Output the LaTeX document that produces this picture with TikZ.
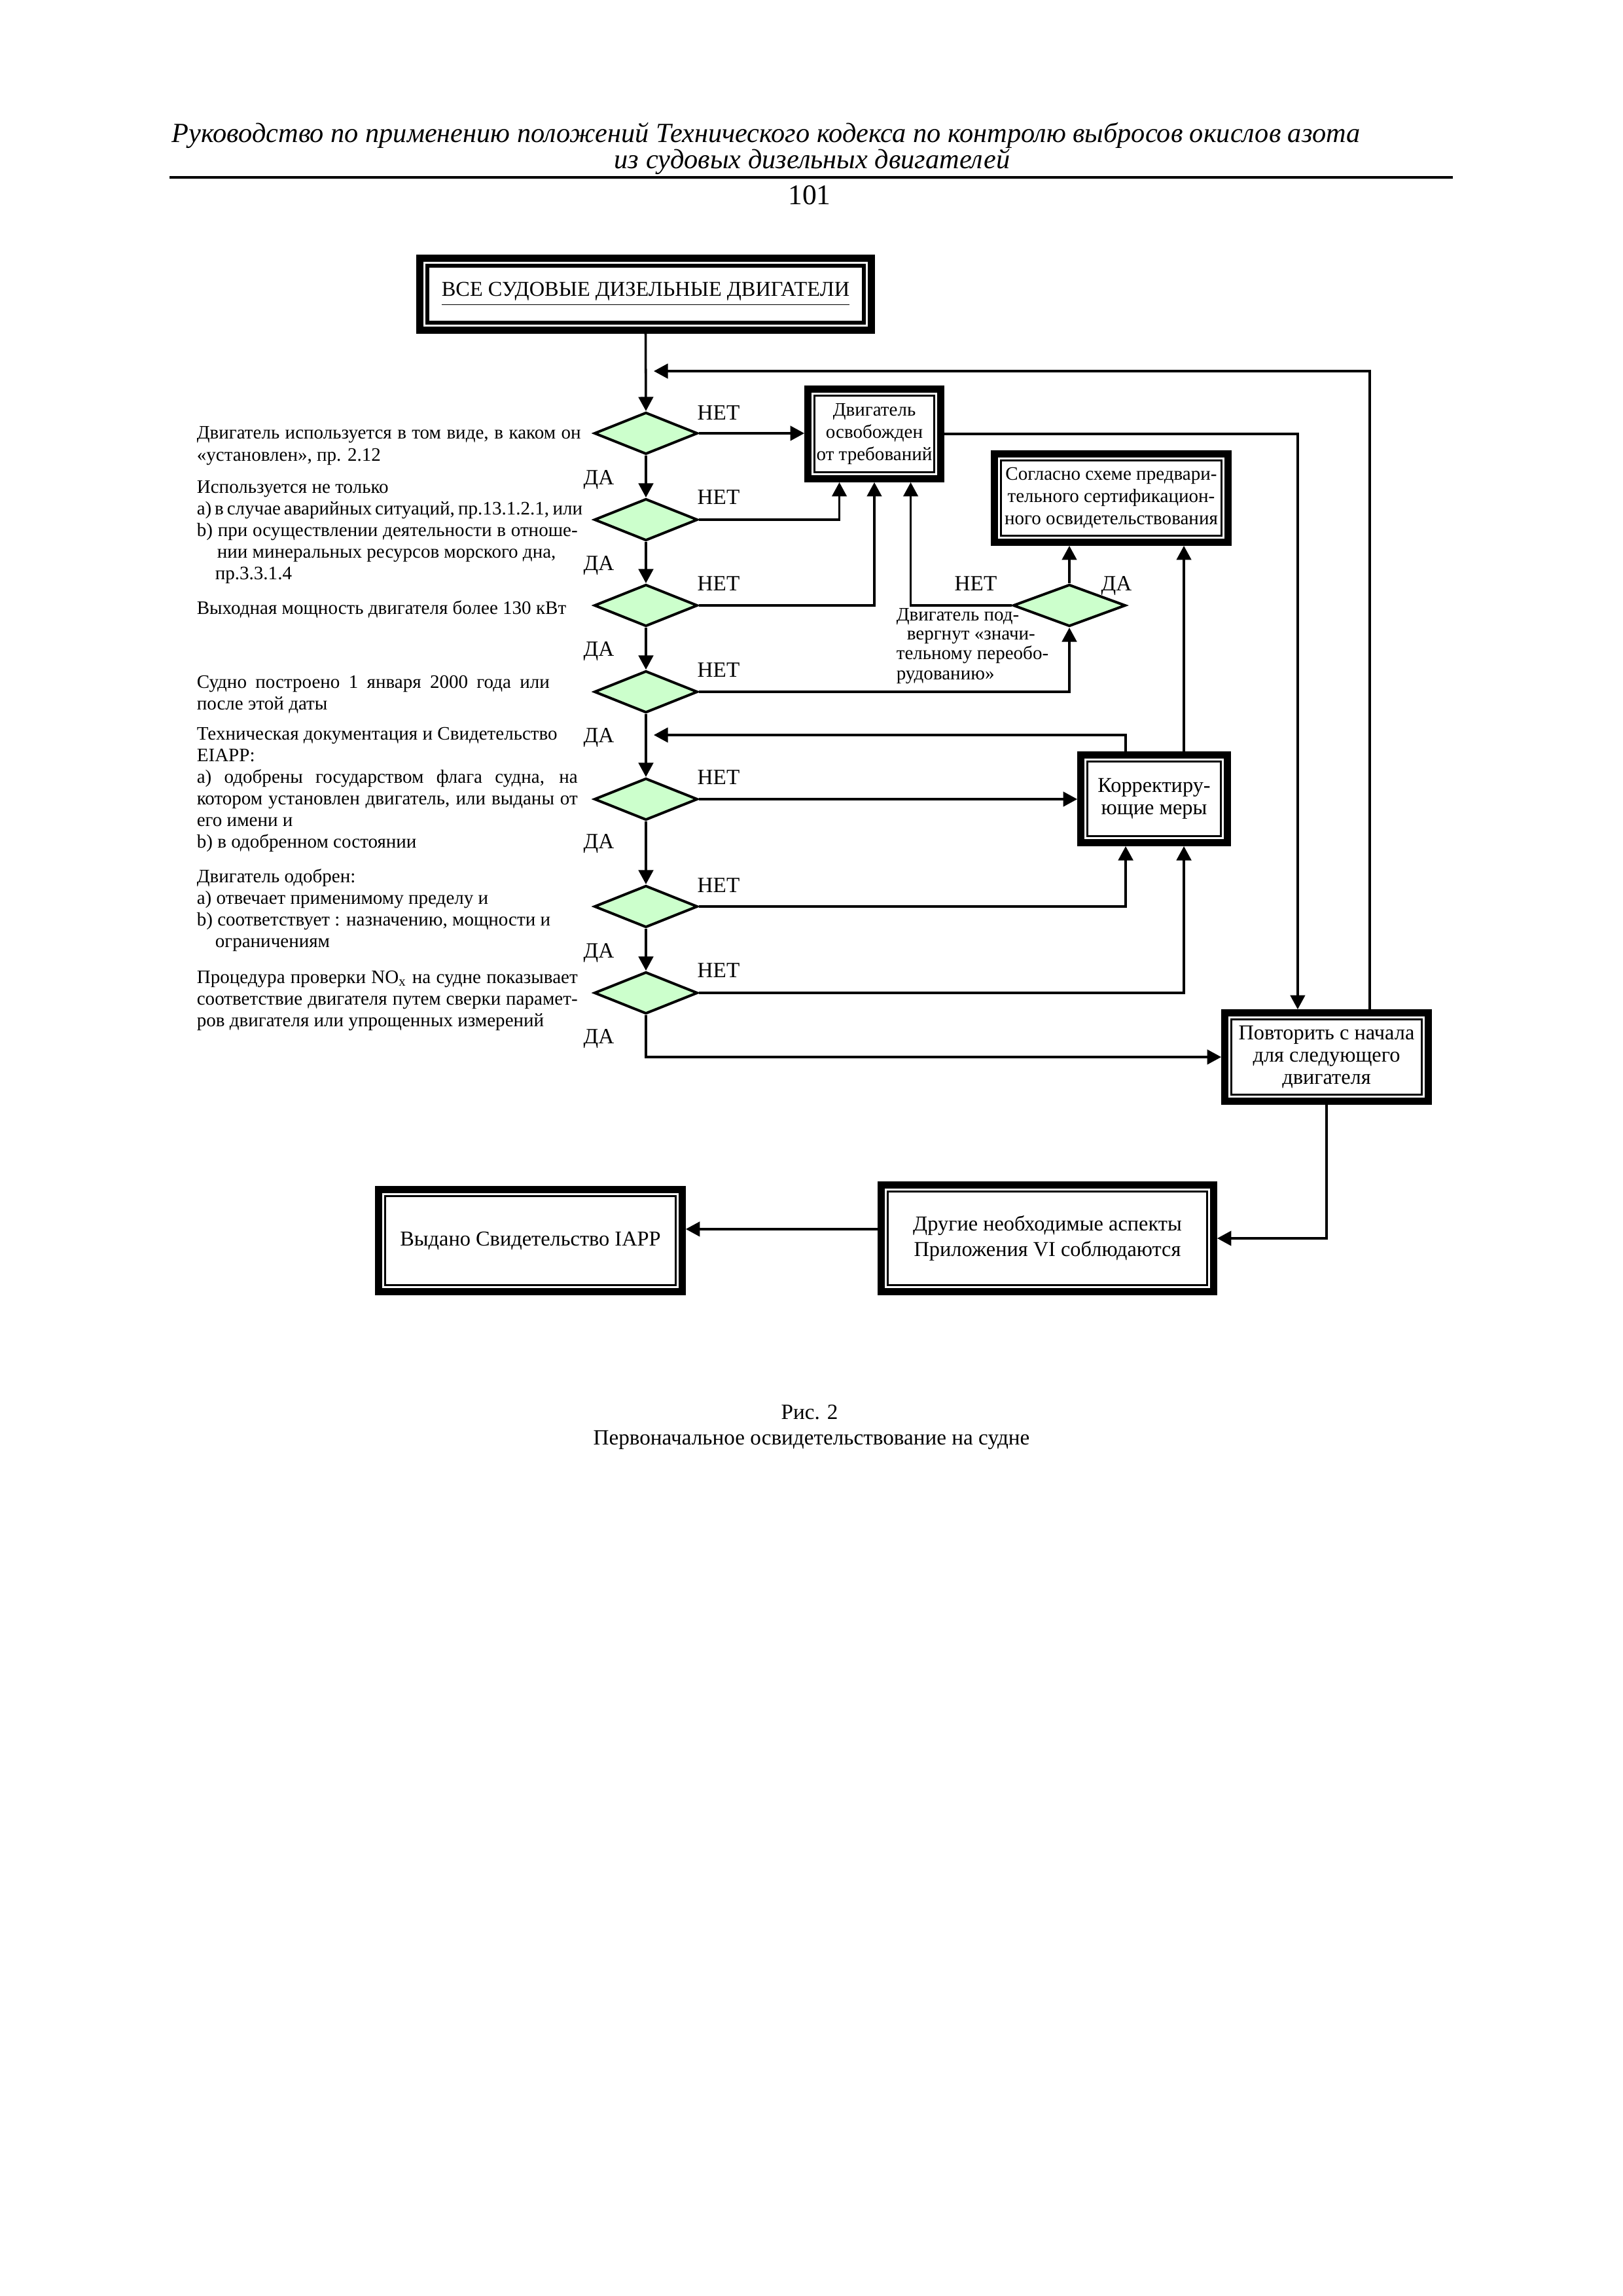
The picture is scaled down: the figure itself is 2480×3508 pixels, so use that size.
\documentclass[tikz,border=0pt]{standalone}
\usepackage{fontspec}
\setmainfont{Liberation Serif}
\usetikzlibrary{arrows.meta,calc,shapes.geometric}
\definecolor{dgreen}{RGB}{204,255,204}
\newcommand\fLeft{\fontsize{7pt}{8pt}\selectfont}
\newcommand\fBox{\fontsize{7.8pt}{8.2pt}\selectfont}
\newcommand\fBoxL{\fontsize{7.8pt}{9.4pt}\selectfont}
\newcommand\fBoxS{\fontsize{7pt}{8.2pt}\selectfont}
\newcommand\fLab{\fontsize{8pt}{9pt}\selectfont}
\newcommand\fHead{\fontsize{10.2pt}{12pt}\selectfont\itshape}
\newcommand\fCap{\fontsize{8pt}{9.6pt}\selectfont}
\newcommand\jline[2]{\makebox[#1][s]{#2}}
\begin{document}
\begin{tikzpicture}[x=0.24093pt,y=-0.24093pt,
  conn/.style={line width=0.85pt},
  arr/.style={conn,-{Triangle[length=5.2pt,width=5.4pt]}},
  dia/.style={diamond,draw,line width=0.95pt,fill=dgreen,inner sep=0pt,
    minimum width={#1*0.24093pt},minimum height={64*0.24093pt}},
  fbox/.style 2 args={draw,rectangle,line width=2.6pt,inner sep=0pt,align=center,
    minimum width={(#1-11)*0.24093pt},minimum height={(#2-11)*0.24093pt},
    path picture={\draw[line width=0.75pt]
      ([shift={(10,10)}]path picture bounding box.north west) rectangle
      ([shift={(-10,-10)}]path picture bounding box.south east);}},
  topbox/.style 2 args={draw,rectangle,line width=2.75pt,inner sep=0pt,align=center,
    minimum width={(#1-11)*0.24093pt},minimum height={(#2-11)*0.24093pt},
    path picture={\draw[line width=1.5pt]
      ([shift={(11.5,11.5)}]path picture bounding box.north west) rectangle
      ([shift={(-11.5,-11.5)}]path picture bounding box.south east);}},
  lt/.style={font=\fLeft,inner sep=0pt,anchor=base west},
  lab/.style={font=\fLab,inner sep=0pt,anchor=base}]

\fill[white] (0,0) rectangle (2480,3508);
\useasboundingbox (0,0) rectangle (2480,3508);

% header
\node[font=\fHead,anchor=base west,inner sep=0pt] (h1) at (262,217) {Руководство по применению положений Технического кодекса по контролю выбросов окислов азота};
\node[font=\fHead,anchor=base,inner sep=0pt] (h2) at (1241,257) {из судовых дизельных двигателей};
\coordinate (ruleL) at (259,271);
\coordinate (ruleR) at (2220,271);
\draw[line width=1.1pt] (ruleL) -- (ruleR);
\node[font=\fontsize{10.5pt}{12pt}\selectfont,anchor=base,inner sep=0pt] (pg) at (1237,312) {101};

% boxes
\node[topbox={701}{121},font=\fBox] (top) at (986.5,449.5) {\underline{ВСЕ СУДОВЫЕ ДИЗЕЛЬНЫЕ ДВИГАТЕЛИ}};
\node[fbox={214}{148},font=\fBoxS] (exempt) at (1336,663) {Двигатель\\освобожден\\от требований};
\node[fbox={368}{146},font=\fBoxS] (precert) at (1698,761) {Согласно схеме предвари-\\тельного сертификацион-\\ного освидетельствования};
\node[fbox={235}{145},font=\fBox] (corr) at (1763.5,1220.5) {Корректиру-\\ющие меры};
\node[fbox={322}{146},font=\fBox] (rep) at (2027,1615) {Повторить с начала\\для следующего\\двигателя};
\node[fbox={519}{174},font=\fBoxL] (other) at (1600.5,1892) {Другие необходимые аспекты\\Приложения VI соблюдаются};
\node[fbox={475}{167},font=\fBox] (issued) at (810.5,1895.5) {\raisebox{-1.5pt}{Выдано Свидетельство IAPP}};

% diamonds
\node[dia=158] (d1) at (987,662) {};
\node[dia=158] (d2) at (987,794) {};
\node[dia=158] (d3) at (987,925) {};
\node[dia=158] (d4) at (987,1057) {};
\node[dia=158] (d5) at (987,1221) {};
\node[dia=158] (d6) at (987,1385) {};
\node[dia=158] (d7) at (987,1517) {};
\node[dia=172] (d8) at (1634,925) {};

% helper coordinates
\coordinate (j1) at (999,567);
\coordinate (j2) at (999,1123);
\coordinate (e1) at ($(exempt.south west)!0.25!(exempt.south east)$);
\coordinate (e3) at ($(exempt.south west)!0.76!(exempt.south east)$);
\coordinate (cb1) at ($(corr.south west)!0.315!(corr.south east)$);
\coordinate (cb2) at ($(corr.south west)!0.694!(corr.south east)$);
\coordinate (ct1) at ($(corr.north west)!0.315!(corr.north east)$);
\coordinate (ct2) at ($(corr.north west)!0.694!(corr.north east)$);
\coordinate (r1) at ($(rep.north west)!0.363!(rep.north east)$);
\coordinate (r2) at ($(rep.north west)!0.705!(rep.north east)$);
\coordinate (o1) at ([yshift=3.4pt]other.west);

% connectors
\draw[arr] (top.south) -- (d1.north);
\draw[arr] (d1.south) -- (d2.north);
\draw[arr] (d2.south) -- (d3.north);
\draw[arr] (d3.south) -- (d4.north);
\draw[arr] (d4.south) -- (d5.north);
\draw[arr] (d5.south) -- (d6.north);
\draw[arr] (d6.south) -- (d7.north);
\draw[arr] (d1.east) -- (d1.east -| exempt.west);
\draw[arr] (d2.east) -| (e1);
\draw[arr] (d3.east) -| (exempt.south);
\draw[arr] (d8.west) -| (e3);
\draw[arr] (d8.north) -- (d8.north |- precert.south);
\draw[arr] (d4.east) -| (d8.south);
\draw[arr] (d5.east) -- (d5.east -| corr.west);
\draw[arr] (d6.east) -| (cb1);
\draw[arr] (d7.east) -| (cb2);
\draw[arr] (ct2) -- (ct2 |- precert.south);
\draw[arr] (ct1) |- (j2);
\draw[arr] (d7.south) |- (rep.west);
\draw[arr] (exempt.east) -| (r1);
\draw[arr] (r2) |- (j1);
\draw[arr] (rep.south) |- (other.east);
\draw[arr] (o1) -- (o1 -| issued.east);

% labels НЕТ / ДА
\node[lab] (n1) at (1098,641) {НЕТ};
\node[lab] (n2) at (1098,770) {НЕТ};
\node[lab] (n3) at (1098,902) {НЕТ};
\node[lab] (n4) at (1098,1034) {НЕТ};
\node[lab] (n5) at (1098,1198) {НЕТ};
\node[lab] (n6) at (1098,1363) {НЕТ};
\node[lab] (n7) at (1098,1493) {НЕТ};
\node[lab] (y1) at (915,740) {ДА};
\node[lab] (y2) at (915,871) {ДА};
\node[lab] (y3) at (915,1002) {ДА};
\node[lab] (y4) at (915,1134) {ДА};
\node[lab] (y5) at (915,1296) {ДА};
\node[lab] (y6) at (915,1463) {ДА};
\node[lab] (y7) at (915,1594) {ДА};
\node[lab] (n8) at (1491,902) {НЕТ};
\node[lab] (y8) at (1706,902) {ДА};

% left texts
\node[lt] (t1) at (300,670) {\jline{141.4pt}{Двигатель используется в том виде, в каком он}};
\node[lt] (t2) at (300,704) {«установлен», пр. 2.12};
\node[lt] (t3) at (300,753) {Используется не только};
\node[lt] (t4) at (300,786) {\jline{140.2pt}{а) в случае аварийных ситуаций, пр.13.1.2.1, или}};
\node[lt] (t5) at (300,819) {\jline{140.2pt}{b) при осуществлении деятельности в отноше-}};
\node[lt] (t6) at (331,852) {нии минеральных ресурсов морского дна,};
\node[lt] (t7) at (328,885) {пр.3.3.1.4};
\node[lt] (t8) at (300,938) {Выходная мощность двигателя более 130 кВт};
\node[lt] (t9) at (300,1051) {\jline{129.9pt}{Судно построено 1 января 2000 года или}};
\node[lt] (t10) at (300,1084) {после этой даты};
\node[lt] (t11) at (300,1130) {Техническая документация и Свидетельство};
\node[lt] (t12) at (300,1163) {EIAPP:};
\node[lt] (t13) at (300,1196) {\jline{140.2pt}{а) одобрены государством флага судна, на}};
\node[lt] (t14) at (300,1229) {\jline{140.2pt}{котором установлен двигатель, или выданы от}};
\node[lt] (t15) at (300,1262) {его имени и};
\node[lt] (t16) at (300,1295) {b) в одобренном состоянии};
\node[lt] (t17) at (300,1348) {Двигатель одобрен:};
\node[lt] (t18) at (300,1381) {а) отвечает применимому пределу и};
\node[lt] (t19) at (300,1414) {b) соответствует : назначению, мощности и};
\node[lt] (t20) at (328,1447) {ограничениям};
\node[lt] (t21) at (300,1502) {\jline{140.2pt}{Процедура проверки NO\textsubscript{x} на судне показывает}};
\node[lt] (t22) at (300,1535) {\jline{140.2pt}{соответствие двигателя путем сверки парамет-}};
\node[lt] (t23) at (300,1568) {ров двигателя или упрощенных измерений};
\node[lt] (t24) at (1369,948) {Двигатель под-};
\node[lt] (t25) at (1385,977) {вергнут «значи-};
\node[lt] (t26) at (1369,1007) {тельному переобо-};
\node[lt] (t27) at (1369,1038) {рудованию»};

% caption
\node[font=\fCap,anchor=base,inner sep=0pt] (cap1) at (1237,2168) {Рис. 2};
\node[font=\fCap,anchor=base,inner sep=0pt] (cap2) at (1240,2207) {Первоначальное освидетельствование на судне};
\end{tikzpicture}
\end{document}
